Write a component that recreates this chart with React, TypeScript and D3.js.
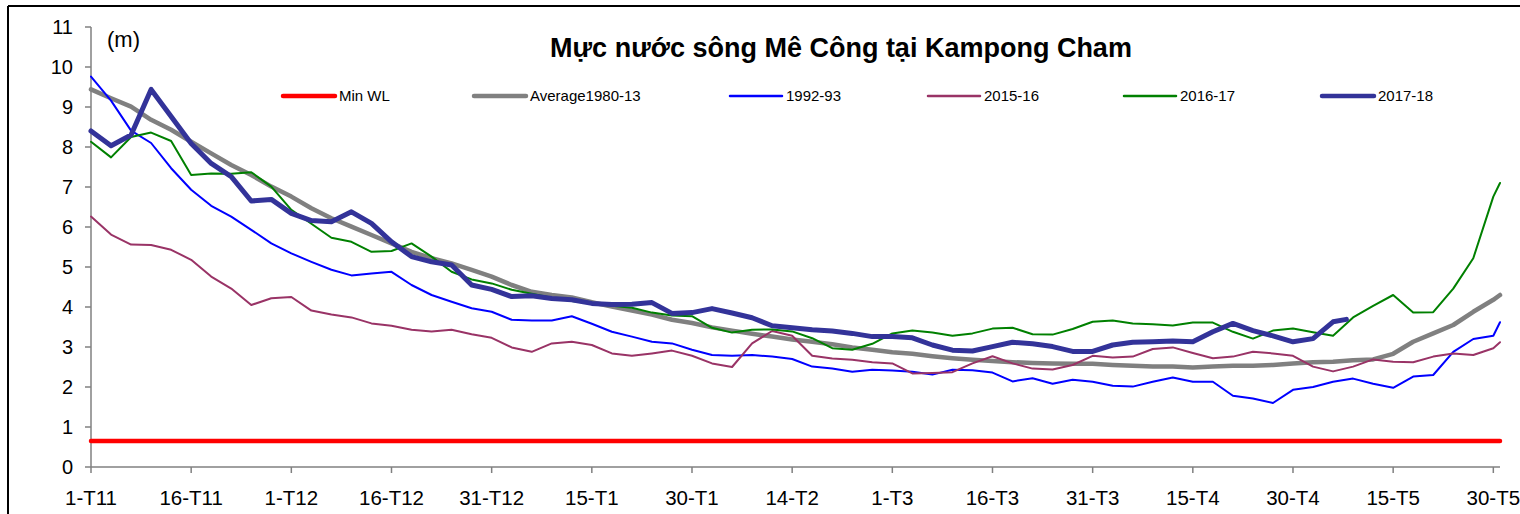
import React from "react";
import * as d3 from "d3";

// Day offsets from 1 November (sampling grid)
const dayGrid = [
  0, 3, 6, 9, 12, 15, 18, 21, 24, 27, 30, 33, 36, 39, 42, 45, 48, 51, 54, 57, 60, 63, 66, 69,
  72, 75, 78, 81, 84, 87, 90, 93, 96, 99, 102, 105, 108, 111, 114, 117, 120, 123, 126, 129, 132, 135, 138, 141,
  144, 147, 150, 153, 156, 159, 162, 165, 168, 171, 174, 177, 180, 183, 186, 189, 192, 195, 198, 201, 204, 207, 210, 211,
];

const minWLDays = [0, 211];
const minWLValues = [0.65, 0.65];

const average1980_13 = [
  9.44, 9.22, 9.01, 8.68, 8.43, 8.13, 7.84, 7.55, 7.3, 7.01, 6.76, 6.47, 6.22, 6.01, 5.8, 5.59, 5.38, 5.22, 5.09, 4.93, 4.76, 4.55, 4.38, 4.3,
  4.24, 4.12, 4.01, 3.91, 3.81, 3.68, 3.6, 3.49, 3.41, 3.33, 3.26, 3.19, 3.13, 3.07, 2.99, 2.93, 2.87, 2.83, 2.77, 2.72, 2.68, 2.65, 2.62, 2.6,
  2.59, 2.58, 2.58, 2.55, 2.53, 2.51, 2.51, 2.49, 2.51, 2.53, 2.53, 2.55, 2.59, 2.62, 2.63, 2.67, 2.69, 2.83, 3.13, 3.34, 3.55, 3.88, 4.18, 4.3,
];

const y1992_93 = [
  9.76, 9.16, 8.41, 8.1, 7.47, 6.93, 6.53, 6.26, 5.93, 5.59, 5.34, 5.13, 4.93, 4.79, 4.84, 4.88, 4.55, 4.3, 4.13, 3.97, 3.88, 3.68, 3.66, 3.66,
  3.77, 3.58, 3.38, 3.26, 3.13, 3.09, 2.93, 2.8, 2.78, 2.8, 2.76, 2.7, 2.51, 2.46, 2.38, 2.43, 2.41, 2.38, 2.31, 2.43, 2.42, 2.36, 2.14, 2.22,
  2.08, 2.18, 2.13, 2.03, 2.01, 2.13, 2.24, 2.13, 2.13, 1.78, 1.71, 1.6, 1.93, 2.0, 2.13, 2.21, 2.08, 1.98, 2.26, 2.3, 2.88, 3.2, 3.28, 3.62,
];

const y2015_16 = [
  6.26, 5.81, 5.56, 5.55, 5.43, 5.18, 4.76, 4.46, 4.05, 4.22, 4.25, 3.91, 3.81, 3.74, 3.59, 3.53, 3.43, 3.39, 3.43, 3.32, 3.23, 2.99, 2.88, 3.09,
  3.13, 3.05, 2.84, 2.78, 2.84, 2.91, 2.78, 2.59, 2.5, 3.09, 3.4, 3.28, 2.78, 2.71, 2.68, 2.62, 2.59, 2.34, 2.35, 2.37, 2.59, 2.77, 2.59, 2.46,
  2.44, 2.55, 2.78, 2.74, 2.76, 2.95, 2.99, 2.85, 2.72, 2.76, 2.88, 2.84, 2.78, 2.51, 2.39, 2.51, 2.69, 2.63, 2.62, 2.76, 2.84, 2.8, 2.97, 3.12,
];

const y2016_17 = [
  8.13, 7.74, 8.25, 8.36, 8.15, 7.3, 7.34, 7.33, 7.37, 7.01, 6.43, 6.08, 5.73, 5.63, 5.38, 5.4, 5.59, 5.26, 4.88, 4.69, 4.59, 4.43, 4.33, 4.23,
  4.15, 4.09, 4.03, 3.98, 3.86, 3.79, 3.77, 3.48, 3.36, 3.43, 3.44, 3.39, 3.22, 2.97, 2.93, 3.08, 3.34, 3.41, 3.36, 3.28, 3.34, 3.46, 3.48, 3.32,
  3.31, 3.45, 3.63, 3.66, 3.59, 3.57, 3.54, 3.61, 3.61, 3.38, 3.21, 3.41, 3.46, 3.37, 3.28, 3.74, 4.03, 4.3, 3.86, 3.87, 4.46, 5.22, 6.76, 7.1,
];

const days2017_18 = [
  0, 3, 6, 9, 12, 15, 18, 21, 24, 27, 30, 33, 36, 39, 42, 45, 48, 51, 54, 57, 60, 63, 66, 69,
  72, 75, 78, 81, 84, 87, 90, 93, 96, 99, 102, 105, 108, 111, 114, 117, 120, 123, 126, 129, 132, 135, 138, 141,
  144, 147, 150, 153, 156, 159, 162, 165, 168, 171, 174, 177, 180, 183, 186, 188,
];
const y2017_18 = [
  8.4, 8.03, 8.3, 9.44, 8.76, 8.09, 7.59, 7.26, 6.65, 6.69, 6.34, 6.16, 6.13, 6.38, 6.09, 5.63, 5.26, 5.13, 5.05, 4.55, 4.44, 4.26, 4.28, 4.21,
  4.18, 4.09, 4.06, 4.07, 4.11, 3.84, 3.86, 3.96, 3.85, 3.73, 3.53, 3.48, 3.43, 3.4, 3.34, 3.26, 3.26, 3.23, 3.05, 2.92, 2.9, 3.01, 3.12, 3.08,
  3.01, 2.89, 2.89, 3.05, 3.12, 3.13, 3.15, 3.13, 3.38, 3.59, 3.41, 3.28, 3.13, 3.21, 3.63, 3.69,
];

const tickDays = [0, 15, 30, 45, 60, 75, 90, 105, 120, 135, 150, 165, 180, 195, 210];
const tickLabels = [
  "1-T11", "16-T11", "1-T12", "16-T12", "31-T12", "15-T1", "30-T1", "14-T2",
  "1-T3", "16-T3", "31-T3", "15-T4", "30-T4", "15-T5", "30-T5",
];
const yTicks = [0, 1, 2, 3, 4, 5, 6, 7, 8, 9, 10, 11];

const seriesNames = ["Min WL", "Average1980-13", "1992-93", "2015-16", "2016-17", "2017-18"];
const seriesColors = ["#FF0000", "#808080", "#0000FF", "#993366", "#008000", "#333399"];
const seriesWidths = [4.5, 4.5, 2, 2, 2, 5];

// legend layout (left edge of each legend sample line)
const legendX = [283, 474, 730, 928, 1124, 1322];

const FONT = "Arial, 'Liberation Sans', Helvetica, sans-serif";

export default function App() {
  const W = 1520;
  const H = 514;
  const x = d3.scaleLinear().domain([0, 211]).range([91, 1500]);
  const y = d3.scaleLinear().domain([0, 11]).range([467, 27]);

  const seriesData: [number, number][][] = [
    minWLDays.map((d, i) => [d, minWLValues[i]]),
    dayGrid.map((d, i) => [d, average1980_13[i]]),
    dayGrid.map((d, i) => [d, y1992_93[i]]),
    dayGrid.map((d, i) => [d, y2015_16[i]]),
    dayGrid.map((d, i) => [d, y2016_17[i]]),
    days2017_18.map((d, i) => [d, y2017_18[i]]),
  ];

  const line = d3
    .line<[number, number]>()
    .x((d) => x(d[0]))
    .y((d) => y(d[1]));

  const axisColor = "#808080";
  const legendY = 96;

  return (
    <div style={{ position: "absolute", left: 0, top: 0 }}>
      <style>{"body{margin:0;}"}</style>
      <svg width={W} height={H} style={{ display: "block", background: "#fff" }} fontFamily={FONT}>
        <rect x={0} y={0} width={W} height={H} fill="#fff" />
        {/* outer frame */}
        <line x1={8} y1={6} x2={W + 5} y2={6} stroke="#000" strokeWidth={2} />
        <line x1={8} y1={6} x2={8} y2={H + 5} stroke="#000" strokeWidth={2} />

        {/* title */}
        <text x={841} y={57} textAnchor="middle" fontSize={27} fontWeight="bold" fill="#000">
          Mực nước sông Mê Công tại Kampong Cham
        </text>
        <text x={107} y={47} fontSize={22} fill="#000">
          (m)
        </text>

        {/* y axis */}
        <line x1={x(0)} y1={y(0)} x2={x(0)} y2={y(11)} stroke={axisColor} strokeWidth={1.5} />
        {yTicks.map((t) => (
          <g key={"yt" + t}>
            <line x1={x(0) - 6} x2={x(0)} y1={y(t)} y2={y(t)} stroke={axisColor} strokeWidth={1.5} />
            <text x={73} y={y(t)} dy="0.35em" textAnchor="end" fontSize={20} fill="#000">
              {t}
            </text>
          </g>
        ))}

        {/* x axis */}
        <line x1={x(0)} y1={y(0)} x2={x(211)} y2={y(0)} stroke={axisColor} strokeWidth={1.5} />
        {tickDays.map((d, i) => (
          <g key={"xt" + d}>
            <line x1={x(d)} x2={x(d)} y1={y(0)} y2={y(0) + 6} stroke={axisColor} strokeWidth={1.5} />
            <text x={x(d)} y={505} textAnchor="middle" fontSize={20.5} fill="#000">
              {tickLabels[i]}
            </text>
          </g>
        ))}

        {/* series */}
        {seriesData.map((data, i) => (
          <path
            key={"s" + i}
            d={line(data) || ""}
            fill="none"
            stroke={seriesColors[i]}
            strokeWidth={seriesWidths[i]}
            strokeLinejoin="round"
            strokeLinecap="round"
          />
        ))}

        {/* legend */}
        {seriesNames.map((name, i) => (
          <g key={"lg" + i}>
            <line
              x1={legendX[i]}
              x2={legendX[i] + 52}
              y1={legendY}
              y2={legendY}
              stroke={seriesColors[i]}
              strokeWidth={seriesWidths[i] >= 4 ? 4.5 : 2.5}
              strokeLinecap="round"
            />
            <text x={legendX[i] + 56} y={legendY} dy="0.35em" fontSize={15} fill="#000">
              {name}
            </text>
          </g>
        ))}
      </svg>
    </div>
  );
}
